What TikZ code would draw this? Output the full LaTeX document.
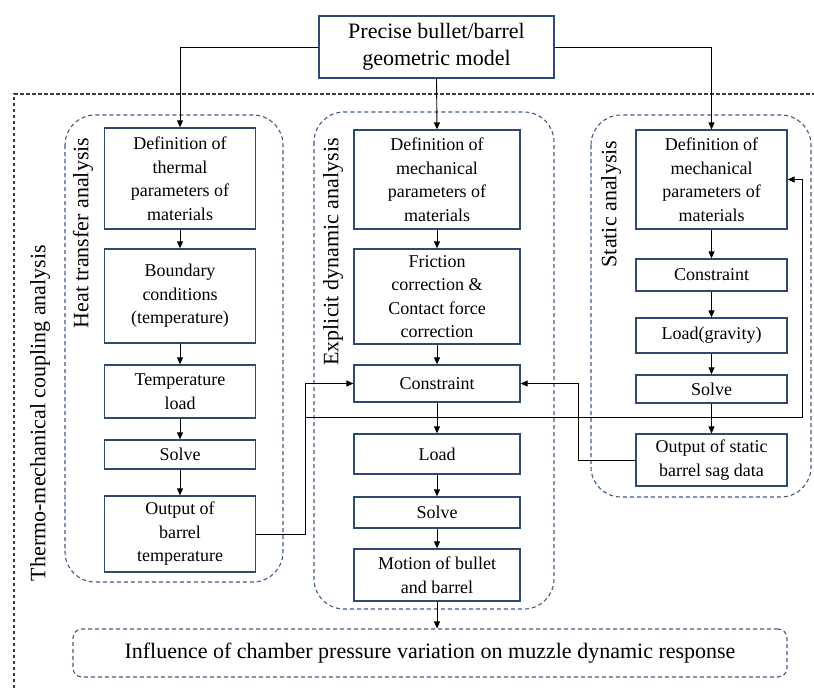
\documentclass[tikz,border=0pt]{standalone}
\usepackage{fontspec}
\setmainfont{Liberation Serif}
\usetikzlibrary{arrows.meta}
\definecolor{boxcol}{RGB}{47,74,112}
\definecolor{grpcol}{RGB}{62,92,132}
\definecolor{outcol}{RGB}{60,60,60}
\begin{document}
\begin{tikzpicture}[x=1pt,y=-1pt,
  box/.style={draw=boxcol, line width=1.3pt, align=center, inner sep=1pt,
    font=\fontsize{18}{23.5}\selectfont, text=black},
  hbox/.style={box, minimum width=151pt},
  mbox/.style={box, minimum width=166pt},
  sbox/.style={box, minimum width=151pt},
  biglabel/.style={font=\fontsize{22}{27}\selectfont, align=center, inner sep=0pt},
  arr/.style={-{Triangle[length=7pt,width=6pt]}, line width=0.9pt, black},
  plainline/.style={line width=0.9pt, black},
  grp/.style={draw=grpcol, line width=1.1pt, dash pattern=on 4pt off 3pt, rounded corners=30pt},
  outer/.style={draw=outcol, line width=1.1pt, dash pattern=on 3.5pt off 2.5pt}
]
\useasboundingbox (0,0) rectangle (814,688);

% outer dashed frame
\draw[outer] (14,688) -- (14,94) -- (814,94);

% group frames
\draw[grp] (65,115) rectangle (283,582);
\draw[grp] (314,112) rectangle (554,609);
\draw[grp] (591,115) rectangle (811,497);

% labels
\node[biglabel, rotate=90] (lthermo) at (40,413) {Thermo-mechanical coupling analysis};
\node[biglabel, rotate=90] (lheat) at (83,233) {Heat transfer analysis};
\node[biglabel, rotate=90] (lexp) at (333,252) {Explicit dynamic analysis};
\node[biglabel, rotate=90] (lstat) at (611,204) {Static analysis};

% top box
\node[box, biglabel, draw=boxcol, line width=1.3pt, minimum width=235pt, minimum height=62pt] (top) at (436.5,47) {Precise bullet/barrel\\geometric model};

% heat transfer column
\node[hbox, minimum height=101pt] (ht1) at (180,178.5) {Definition of\\thermal\\parameters of\\materials};
\node[hbox, minimum height=94pt] (ht2) at (180,296) {Boundary\\conditions\\(temperature)};
\node[hbox, minimum height=53pt] (ht3) at (180,391.5) {Temperature\\load};
\node[hbox, minimum height=29pt] (ht4) at (180,454.5) {Solve};
\node[hbox, minimum height=76pt] (ht5) at (180,534) {Output of\\barrel\\temperature};

% explicit dynamic column
\node[mbox, minimum height=99pt] (ed1) at (437,179.5) {Definition of\\mechanical\\parameters of\\materials};
\node[mbox, minimum height=95pt] (ed2) at (437,296.5) {Friction\\correction \&\\Contact force\\correction};
\node[mbox, minimum height=37pt] (ed3) at (437,383.5) {Constraint};
\node[mbox, minimum height=40pt] (ed4) at (437,454) {Load};
\node[mbox, minimum height=31pt] (ed5) at (437,512.5) {Solve};
\node[mbox, minimum height=52pt] (ed6) at (437,575) {Motion of bullet\\and barrel};

% static column
\node[sbox, minimum height=99pt] (st1) at (711.5,179.5) {Definition of\\mechanical\\parameters of\\materials};
\node[sbox, minimum height=32pt] (st2) at (711.5,275) {Constraint};
\node[sbox, minimum height=35pt] (st3) at (711.5,335.5) {Load(gravity)};
\node[sbox, minimum height=28pt] (st4) at (711.5,389) {Solve};
\node[sbox, minimum height=52pt] (st5) at (711.5,460) {Output of static\\barrel sag data};

% bottom box
\node[draw=grpcol, line width=1.1pt, dash pattern=on 4pt off 3pt, rounded corners=9pt,
  minimum width=714pt, minimum height=48pt, font=\fontsize{22}{27}\selectfont] (bot) at (430,653)
  {Influence of chamber pressure variation on muzzle dynamic response};

% connectors from top
\draw[arr] (top.west) -| (ht1.north);
\draw[arr] (top.south) -- (ed1.north);
\draw[arr] (top.east) -| (st1.north);

% column arrows
\draw[arr] (ht1) -- (ht2);
\draw[arr] (ht2) -- (ht3);
\draw[arr] (ht3) -- (ht4);
\draw[arr] (ht4) -- (ht5);
\draw[arr] (ed1) -- (ed2);
\draw[arr] (ed2) -- (ed3);
\draw[arr] (ed3) -- (ed4);
\draw[arr] (ed4) -- (ed5);
\draw[arr] (ed5) -- (ed6);
\draw[arr] (st1) -- (st2);
\draw[arr] (st2) -- (st3);
\draw[arr] (st3) -- (st4);
\draw[arr] (st4) -- (st5);

% cross connectors
\coordinate (bendA) at (305,534);
\coordinate (joinA) at (305,417);
\coordinate (bendB) at (802,417);
\coordinate (bendC) at (578,460);
\draw[arr] (ht5.east) -- (bendA) |- (ed3.west);
\draw[arr] (joinA) -- (bendB) |- (st1.east);
\draw[arr] (st5.west) -- (bendC) |- (ed3.east);
\draw[arr] (ed6.south) -- (ed6.south |- bot.north);
\end{tikzpicture}
\end{document}
